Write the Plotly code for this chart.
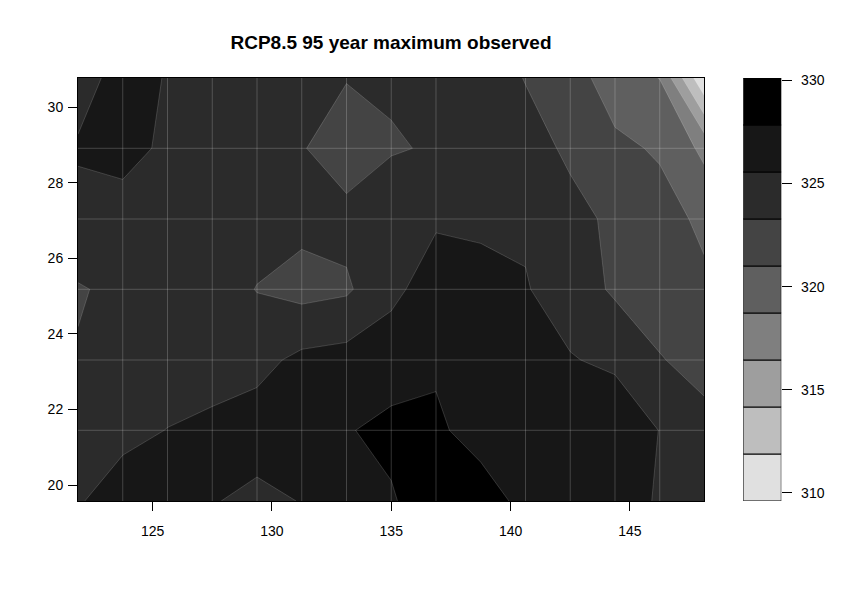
import plotly.graph_objects as go

# grid coordinates (lon, lat)
LON = [121.875 + 1.875 * k for k in range(15)]
LAT = [19.58, 21.45, 23.31, 25.18, 27.04, 28.91, 30.77]

# values, one list per latitude row (south -> north)
Z_ROW0 = [325.39, 326.5, 326.8, 325.7, 325.0, 325.64, 327.0, 327.57, 329.5, 330.0, 326.57, 326.8, 326.8, 325.29, 324.8]
Z_ROW1 = [324.6, 325.05, 325.6, 326.0, 326.65, 327.0, 327.67, 328.5, 328.6, 326.07, 326.8, 327.0, 327.3, 325.5, 323.79]
Z_ROW2 = [323.44, 324.3, 324.6, 324.7, 324.86, 326.1, 326.43, 326.6, 327.22, 327.0, 326.8, 325.7, 325.1, 323.37, 322.73]
Z_ROW3 = [323.1, 323.79, 324.4, 324.5, 323.2, 322.53, 322.95, 325.1, 326.5, 326.2, 325.7, 324.5, 322.95, 322.5, 321.56]
Z_ROW4 = [325.0, 325.0, 324.8, 324.6, 324.3, 323.85, 324.0, 324.74, 325.33, 325.22, 325.26, 323.84, 322.92, 322.14, 320.39]
Z_ROW5 = [325.75, 326.0, 325.32, 324.8, 324.5, 323.44, 322.0, 323.1, 323.48, 324.0, 324.04, 322.95, 321.64, 320.66, 318.2]
Z_ROW6 = [324.8, 326.26, 325.46, 324.8, 324.6, 324.5, 323.39, 323.55, 324.0, 324.4, 323.2, 322.3, 319.5, 318.68, 309.7]
Z = [Z_ROW0, Z_ROW1, Z_ROW2, Z_ROW3, Z_ROW4, Z_ROW5, Z_ROW6]

# contour levels (10 breaks -> 9 bands)
LEVEL_MIN = 309.6
LEVEL_MAX = 330.12
N_BANDS = 9
STEP = (LEVEL_MAX - LEVEL_MIN) / N_BANDS
LEVELS = [LEVEL_MIN + i * STEP for i in range(N_BANDS + 1)]
BAND_COLORS = ['#e0e0e0', '#bebebe', '#9e9e9e', '#7f7f7f', '#5f5f5f',
               '#444444', '#2b2b2b', '#171717', '#000000']

X_TICKS = [125, 130, 135, 140, 145]
Y_TICKS = [20, 22, 24, 26, 28, 30]
LEGEND_TICKS = [310, 315, 320, 325, 330]
TITLE = "RCP8.5 95 year maximum observed"

FONT = "Liberation Sans, Arial, sans-serif"
SEAM = "rgba(255,255,255,0.2)"

fig = go.Figure()

fig.add_trace(go.Contour(
    x=LON, y=LAT, z=Z,
    colorscale=[[i / (N_BANDS - 1), c] for i, c in enumerate(BAND_COLORS)],
    contours=dict(start=LEVELS[1], end=LEVELS[N_BANDS - 1] + 0.01, size=STEP,
                  coloring="fill", showlines=True),
    line=dict(color=SEAM, width=0.8, smoothing=0),
    showscale=False, hoverinfo="skip",
    xaxis="x", yaxis="y",
))

# cell seams along the data grid
sx, sy = [], []
for k, lon in enumerate(LON[1:-1], start=1):
    if k == 9:
        continue
    sx += [lon, lon, None]
    sy += [LAT[0], LAT[-1], None]
for lat in LAT[1:-1]:
    sx += [LON[0], LON[-1], None]
    sy += [lat, lat, None]
fig.add_trace(go.Scatter(x=sx, y=sy, mode="lines",
                         line=dict(color=SEAM, width=1),
                         hoverinfo="skip", showlegend=False,
                         xaxis="x", yaxis="y"))

# key (legend) as stacked boxes
fig.add_trace(go.Bar(
    x=[0] * N_BANDS, y=[STEP] * N_BANDS, base=LEVELS[:-1],
    width=1, marker=dict(color=BAND_COLORS, line=dict(color="black", width=1)),
    hoverinfo="skip", showlegend=False,
    xaxis="x2", yaxis="y2",
))

axis_common = dict(ticks="outside", ticklen=9, tickwidth=1, tickcolor="black",
                   showgrid=False, zeroline=False,
                   tickfont=dict(family=FONT, size=14, color="black"))

fig.update_layout(
    width=860, height=599,
    margin=dict(l=78, r=78, t=78, b=98),
    paper_bgcolor="white", plot_bgcolor="white",
    showlegend=False,
    title=dict(text="<b>" + TITLE + "</b>", x=391 / 860, xanchor="center",
               xref="container", y=1 - 42 / 599, yref="container", yanchor="middle",
               font=dict(family=FONT, size=19, color="black")),
    xaxis=dict(domain=[0, 0.8899], range=[LON[0], LON[-1]], tickvals=X_TICKS,
               showline=True, mirror=True, linecolor="black", linewidth=1,
               ticklabelstandoff=8, **axis_common),
    yaxis=dict(domain=[0, 1], range=[LAT[0], LAT[-1]], tickvals=Y_TICKS,
               showline=True, mirror=True, linecolor="black", linewidth=1,
               ticklabelstandoff=2, **axis_common),
    xaxis2=dict(domain=[0.945, 0.999], range=[-0.5, 0.5], anchor="y2",
                showticklabels=False, showline=False, showgrid=False,
                zeroline=False, ticks=""),
    yaxis2=dict(domain=[0, 1], range=[LEVEL_MIN, LEVEL_MAX], anchor="x2",
                side="right", tickvals=LEGEND_TICKS, showline=False,
                ticklabelstandoff=6,
                **{**axis_common, "ticklen": 10}),
    bargap=0,
)

fig.write_html("out.html",
               config={"displayModeBar": False, "staticPlot": True},
               post_script="document.body.style.margin='0';document.body.style.overflow='hidden';")
